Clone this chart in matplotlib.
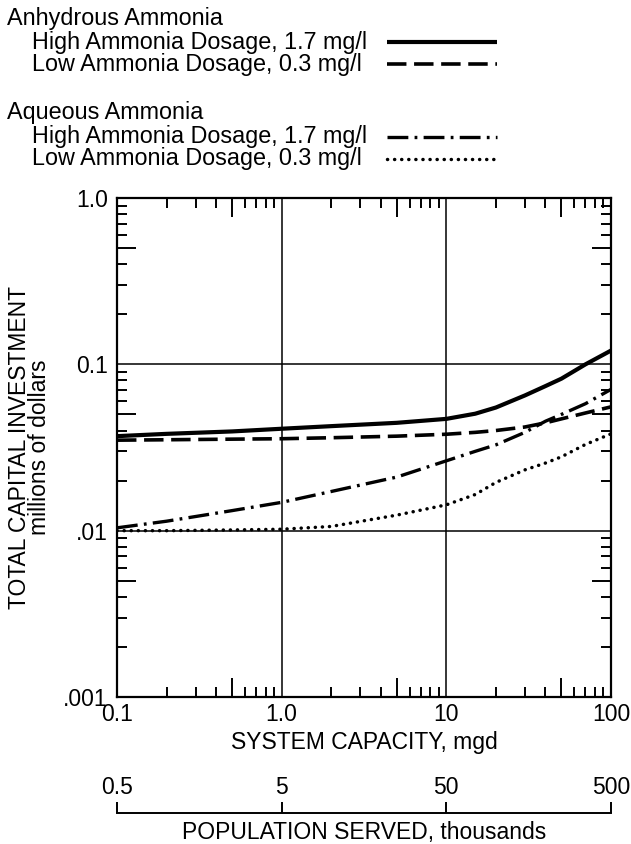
import math
import matplotlib
matplotlib.use('Agg')
import matplotlib.pyplot as plt
from matplotlib.lines import Line2D
from matplotlib.ticker import FixedLocator, NullFormatter

plt.rcParams['font.family'] = ['Liberation Sans', 'DejaVu Sans']
plt.rcParams['font.size'] = 16.5
plt.rcParams['lines.scale_dashes'] = False

# system capacity (mgd) and total capital investment (millions of dollars)
capacity = [0.1, 0.2, 0.5, 1, 2, 5, 10, 15, 20, 30, 40, 50, 70, 100]
anhydrous_high = [0.037, 0.0382, 0.0395, 0.041, 0.0425, 0.0445, 0.047, 0.0505, 0.055, 0.065, 0.074, 0.082, 0.100, 0.121]
anhydrous_low = [0.035, 0.0352, 0.0355, 0.0357, 0.0362, 0.037, 0.038, 0.039, 0.040, 0.042, 0.0445, 0.047, 0.051, 0.0555]
aqueous_high = [0.0104, 0.0114, 0.0132, 0.0148, 0.0172, 0.021, 0.0263, 0.030, 0.0328, 0.039, 0.0455, 0.050, 0.058, 0.0707]
aqueous_low = [0.0100, 0.0100, 0.0101, 0.0102, 0.0106, 0.0124, 0.0143, 0.0165, 0.0195, 0.0232, 0.0255, 0.0278, 0.033, 0.0382]

group_titles = ['Anhydrous Ammonia', 'Aqueous Ammonia']
series_labels = ['High Ammonia Dosage, 1.7 mg/l', 'Low Ammonia Dosage, 0.3 mg/l',
                 'High Ammonia Dosage, 1.7 mg/l', 'Low Ammonia Dosage, 0.3 mg/l']

x_ticks = [0.1, 1, 10, 100]
x_tick_labels = ['0.1', '1.0', '10', '100']
y_ticks = [0.001, 0.01, 0.1, 1.0]
y_tick_labels = ['.001', '.01', '0.1', '1.0']
pop_ticks = [0.5, 5, 50, 500]
pop_tick_labels = ['0.5', '5', '50', '500']

series = [anhydrous_high, anhydrous_low, aqueous_high, aqueous_low]
styles = [
    dict(linestyle='-', lw=3.0, solid_capstyle='butt'),
    dict(dashes=(14, 5.5), lw=2.6),
    dict(dashes=(15, 4.5, 2, 4.5), lw=2.4),
    dict(dashes=(0.1, 5), lw=2.5, dash_capstyle='round'),
]

W, H = 631, 844
fig = plt.figure(figsize=(W / 100, H / 100), dpi=100)
ax = fig.add_axes([117 / W, 1 - 697 / H, 494 / W, 499 / H])

for vals, st in zip(series, styles):
    ax.plot(capacity, vals, color='black', **st)

ax.set_xscale('log')
ax.set_yscale('log')
ax.set_xlim(0.1, 100)
ax.set_ylim(0.001, 1.0)

ax.set_xticks(x_ticks, labels=x_tick_labels)
ax.set_yticks(y_ticks, labels=y_tick_labels)

def minor_locs(lo, hi):
    out = []
    for e in range(lo, hi):
        for k in range(2, 10):
            out.append(k * 10.0 ** e)
    return out

xm = minor_locs(-1, 2)
ym = minor_locs(-3, 0)
ax.xaxis.set_minor_locator(FixedLocator(xm))
ax.yaxis.set_minor_locator(FixedLocator(ym))
ax.xaxis.set_minor_formatter(NullFormatter())
ax.yaxis.set_minor_formatter(NullFormatter())

ax.tick_params(which='both', direction='in', top=True, right=True, width=1.4, color='black')
ax.tick_params(which='major', length=0)
ax.tick_params(which='minor', length=7)
ax.tick_params(axis='x', which='major', pad=4.5)
ax.tick_params(axis='y', which='major', pad=6.5)

# longer ticks at the 5's
for axis, locs in ((ax.xaxis, xm), (ax.yaxis, ym)):
    ticks = axis.get_minor_ticks(len(locs))
    for t, v in zip(ticks, locs):
        lead = v / 10 ** math.floor(math.log10(v) + 1e-9)
        if abs(lead - 5) < 1e-6:
            t.tick1line.set_markersize(13.5)
            t.tick2line.set_markersize(13.5)

ax.grid(True, which='major', color='black', lw=1.1)
for s in ax.spines.values():
    s.set_linewidth(1.6)

ax.set_xlabel('SYSTEM CAPACITY, mgd', labelpad=3.5)
ax.set_ylabel('TOTAL CAPITAL INVESTMENT\nmillions of dollars', linespacing=0.85)
ax.yaxis.set_label_coords(-0.133, 0.5)

# population served axis
pax = fig.add_axes([117 / W, 1 - 813 / H, 494 / W, 1e-4])
pax.set_xscale('log')
pax.set_xlim(0.5, 500)
pax.set_yticks([])
for side in ('top', 'left', 'right'):
    pax.spines[side].set_visible(False)
pax.spines['bottom'].set_linewidth(1.4)
pax.set_xticks(pop_ticks, labels=pop_tick_labels)
pax.xaxis.set_minor_locator(FixedLocator([]))
pax.tick_params(axis='x', direction='in', length=8, width=1.4, bottom=True, top=False,
                labelbottom=False, labeltop=True, pad=10)
pax.set_xlabel('POPULATION SERVED, thousands', labelpad=5.5)

# legend, drawn as in the original
title_base = [24.5, 119.5]
entry_base = [48.5, 70.5, 143.5, 165.5]
for t, yb in zip(group_titles, title_base):
    fig.text(7 / W, 1 - yb / H, t, ha='left', va='baseline', fontsize=16.8)
for lab, yb, st in zip(series_labels, entry_base, styles):
    fig.text(32 / W, 1 - yb / H, lab, ha='left', va='baseline', fontsize=16.8)
    ys = 1 - (yb - 6.5) / H
    fig.add_artist(Line2D([387 / W, 497 / W], [ys, ys], transform=fig.transFigure,
                          color='black', **st))

fig.savefig('out.png', dpi=100, facecolor='white')
